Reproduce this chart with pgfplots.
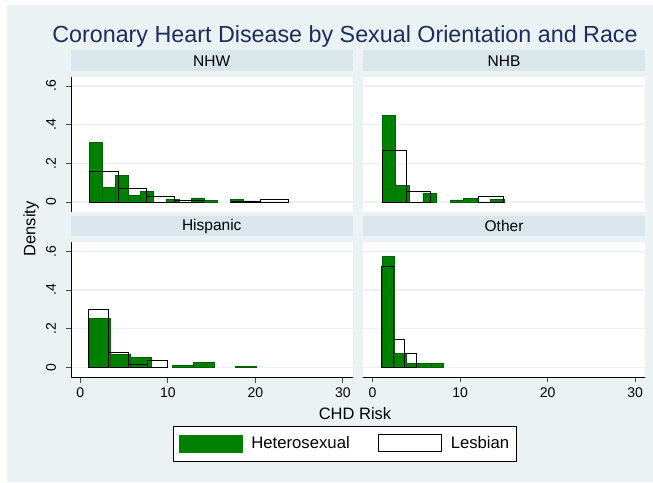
\documentclass[border=0pt]{standalone}
\usepackage{fontspec}
\setmainfont{Liberation Sans}
\usepackage{pgfplots}
\pgfplotsset{compat=1.18}

\definecolor{graphbg}{RGB}{234,242,243}
\definecolor{stripbg}{RGB}{217,230,235}
\definecolor{titlenavy}{RGB}{30,45,90}
\definecolor{stgreen}{RGB}{0,128,0}
\definecolor{stgreenedge}{RGB}{0,95,0}

\pgfplotsset{
  panel/.style={
    scale only axis, width=281.5pt, height=134.5pt,
    xmin=-1.06, xmax=31.1, ymin=-0.05, ymax=0.645,
    axis background/.style={fill=white},
    separate axis lines,
    axis x line*=bottom, axis y line*=left,
    ytick={0,0.2,0.4,0.6}, ymajorgrids,
    grid style={draw=graphbg, line width=1.2pt},
    xtick={0,10,20,30},
    tick align=outside, major tick length=5.5pt,
    tick style={draw=black!70, line width=0.8pt},
    axis line style={draw=black, line width=0.8pt},
    tick label style={font=\fontsize{14}{16}\selectfont},
    xticklabel style={yshift=-2pt},
    /pgf/number format/assume math mode=true,
    title style={at={(0.5,1)}, anchor=south, fill=stripbg,
      minimum width=281.5pt, minimum height=20.5pt, inner sep=0pt,
      yshift=0pt, font=\fontsize{15.5}{17}\selectfont},
  },
  leftpanel/.style={yticklabels={0,.2,.4,.6},
    yticklabel style={rotate=90, anchor=south, yshift=6pt}},
  rightpanel/.style={yticklabels={}, y axis line style={draw=none},
    ytick style={draw=none}},
  toppanel/.style={xticklabels={}, x axis line style={draw=none},
    xtick style={draw=none}},
  het/.style={ybar, bar shift=0pt, fill=stgreen, draw=stgreenedge, line width=0.6pt},
  les/.style={ybar, bar shift=0pt, fill=none, draw=black, line width=1pt},
}

\begin{document}
\begin{tikzpicture}
\fill[white] (0pt,0pt) rectangle (653pt,482pt);
\fill[graphbg] (7pt,0pt) rectangle (653pt,477pt);

\node[font=\fontsize{23.3}{26}\selectfont, text=titlenavy, anchor=base]
  at (345pt,439pt) {Coronary Heart Disease by Sexual Orientation and Race};

% NHW
\begin{axis}[panel, leftpanel, toppanel, at={(71pt,270.3pt)}, anchor=south west, title={NHW}]
\addplot[het, bar width=1.46] coordinates {
 (1.78,0.307) (3.24,0.074) (4.70,0.138) (6.16,0.033) (7.62,0.055)
 (10.54,0.014) (13.46,0.021) (14.92,0.008) (17.84,0.014) (19.30,0.006)};
\addplot[les, bar width=3.25] coordinates {
 (2.685,0.159) (5.935,0.072) (9.185,0.026) (12.435,0.010) (18.935,0.003) (22.185,0.012)};
\end{axis}

% NHB
\begin{axis}[panel, rightpanel, toppanel, at={(363.3pt,270.3pt)}, anchor=south west, title={NHB}]
\addplot[het, bar width=1.55] coordinates {
 (1.875,0.448) (3.425,0.086) (6.525,0.046) (9.625,0.011) (11.175,0.018) (14.275,0.012)};
\addplot[les, bar width=2.76] coordinates {
 (2.48,0.264) (5.24,0.053) (13.52,0.031)};
\end{axis}

% Hispanic
\begin{axis}[panel, leftpanel, at={(71pt,105pt)}, anchor=south west, title={Hispanic},
  legend columns=2,
  legend style={at={(0.9734,-0.494)}, anchor=center, draw=black, line width=0.6pt,
    fill=white, inner xsep=5pt, inner ysep=8.5pt,
    font=\fontsize{16.7}{19}\selectfont,
    /tikz/every odd column/.append style={column sep=7pt},
    /tikz/every even column/.append style={column sep=26pt}},
]
\addplot[het, bar width=2.39,
  legend image code/.code={\fill[stgreen] (0pt,-8.5pt) rectangle (63pt,8.5pt);}]
  coordinates {
 (2.185,0.253) (4.575,0.067) (6.965,0.050) (11.745,0.010) (14.135,0.024) (18.915,0.005)};
\addlegendentry{Heterosexual}
\addplot[les, bar width=2.24,
  legend image code/.code={\draw[black, line width=1pt, fill=white] (0pt,-8.5pt) rectangle (63pt,8.5pt);}]
  coordinates {
 (2.11,0.300) (4.35,0.076) (6.59,0.014) (8.83,0.036)};
\addlegendentry{Lesbian}
\end{axis}

% Other
\begin{axis}[panel, rightpanel, at={(363.3pt,105pt)}, anchor=south west, title={Other}]
\addplot[het, bar width=1.4] coordinates {
 (1.77,0.572) (3.17,0.071) (4.57,0.021) (5.97,0.021) (7.37,0.021)};
\addplot[les, bar width=1.3] coordinates {
 (1.72,0.520) (3.02,0.145) (4.32,0.071)};
\end{axis}

\node[font=\fontsize{16.5}{18}\selectfont, rotate=90] at (31pt,253pt) {Density};
\node[font=\fontsize{16.5}{18}\selectfont, anchor=base] at (355pt,63pt) {CHD Risk};
\end{tikzpicture}
\end{document}
